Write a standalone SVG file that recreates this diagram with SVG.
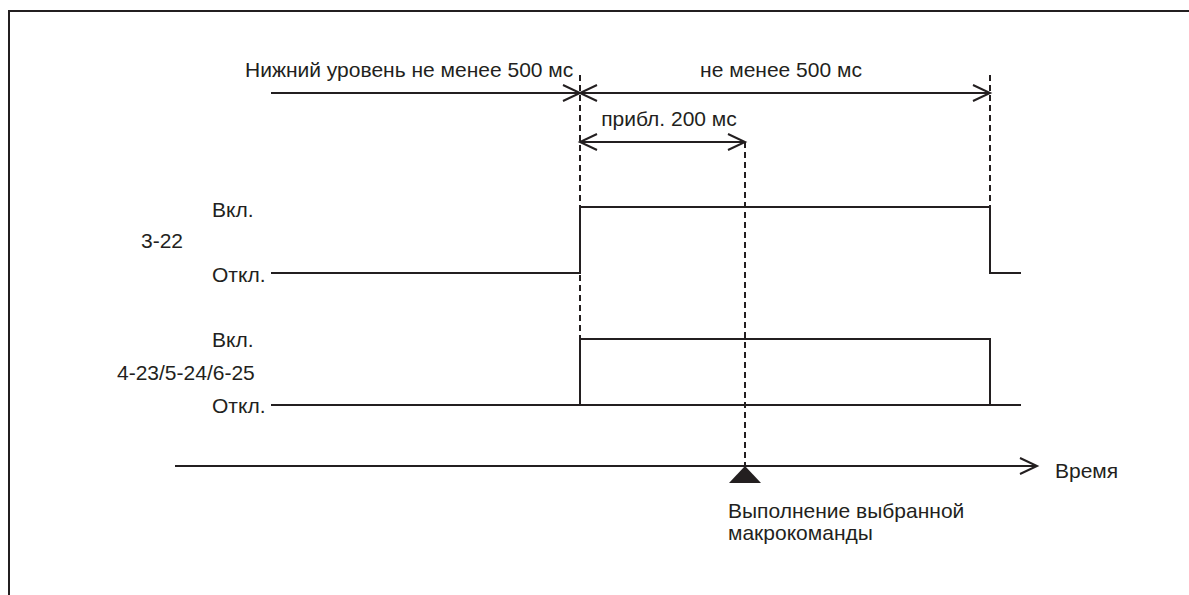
<svg xmlns="http://www.w3.org/2000/svg" width="1189" height="595" viewBox="0 0 1189 595">
<style>
text{font-family:"Liberation Sans",Arial,sans-serif;font-size:21px;fill:#231f20}
.ln{stroke:#231f20;stroke-width:2;fill:none}
.ds{stroke:#231f20;stroke-width:2;fill:none;stroke-dasharray:6 4}
</style>
<rect x="9" y="11" width="1200" height="600" fill="none" stroke="#231f20" stroke-width="2"/>
<g id="connectors">
<line class="ds" x1="580" y1="75" x2="580" y2="405"/>
<line class="ds" x1="990" y1="75" x2="990" y2="207"/>
<line class="ds" x1="745" y1="142" x2="745" y2="466"/>
<line class="ln" x1="271" y1="93" x2="990" y2="93"/>
<polyline class="ln" points="563,85 580,93 563,101"/>
<polyline class="ln" points="597,85 580,93 597,101"/>
<polyline class="ln" points="973,85 990,93 973,101"/>
<line class="ln" x1="580" y1="142" x2="745" y2="142"/>
<polyline class="ln" points="597,134 580,142 597,150"/>
<polyline class="ln" points="728,134 745,142 728,150"/>
<line class="ln" x1="175" y1="466" x2="1037" y2="466"/>
<polyline class="ln" points="1020,458 1037,466 1020,474"/>
<polygon points="745,466 761,483 729,483" fill="#231f20"/>
</g>
<g id="signal-3-22">
<polyline class="ln" points="271,273 580,273 580,207 990,207 990,273 1021,273"/>
</g>
<g id="signal-4-23">
<polyline class="ln" points="271,405 1021,405"/>
<polyline class="ln" points="580,405 580,339 990,339 990,405"/>
</g>
<g id="labels">
<text x="245" y="77">Нижний уровень не менее 500 мс</text>
<text x="781" y="77" text-anchor="middle">не менее 500 мс</text>
<text x="669" y="126" text-anchor="middle">прибл. 200 мс</text>
<text x="212" y="217">Вкл.</text>
<text x="141" y="248">3-22</text>
<text x="212" y="282">Откл.</text>
<text x="212" y="347">Вкл.</text>
<text x="117" y="380">4-23/5-24/6-25</text>
<text x="212" y="413">Откл.</text>
<text x="1055" y="478">Время</text>
<text x="728" y="518">Выполнение выбранной</text>
<text x="728" y="540">макрокоманды</text>
</g>
</svg>
